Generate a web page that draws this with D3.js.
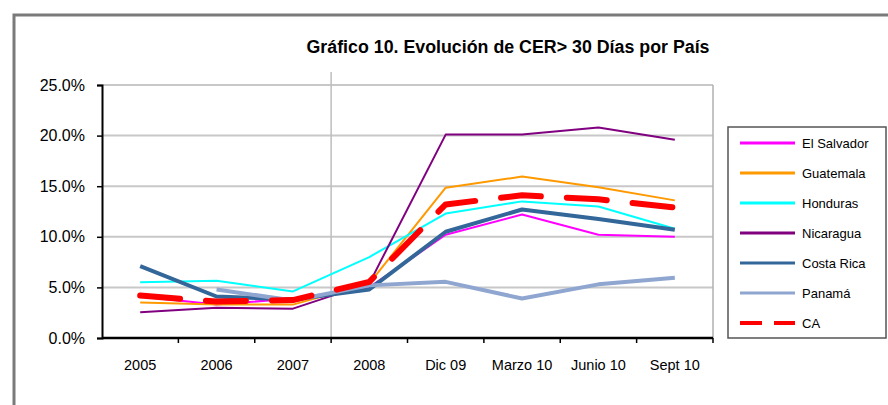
<!DOCTYPE html>
<html>
<head>
<meta charset="utf-8">
<script src="https://cdn.jsdelivr.net/npm/d3@7"></script>
<style>
  body { margin: 0; background: #fff; }
  svg { display: block; font-family: "Liberation Sans", Arial, sans-serif; }
</style>
</head>
<body>
<div id="chart"></div>
<script>
'use strict'
const categories = ['2005', '2006', '2007', '2008', 'Dic 09', 'Marzo 10', 'Junio 10', 'Sept 10'];
const yTicks = [0, 5, 10, 15, 20, 25];
const elSalvador = [4.1, 3.3, 3.9, 5.0, 10.2, 12.2, 10.2, 10.0];
const guatemala = [3.5, 3.3, 3.3, 5.4, 14.85, 15.95, 14.9, 13.6];
const honduras = [5.5, 5.65, 4.6, 8.0, 12.3, 13.5, 13.0, 10.8];
const nicaragua = [2.55, 3.0, 2.9, 5.4, 20.1, 20.1, 20.8, 19.6];
const costaRica = [7.1, 4.1, 3.8, 4.8, 10.5, 12.7, 11.75, 10.7];
const panama = [null, 4.8, 3.7, 5.2, 5.55, 3.9, 5.3, 5.95];
const ca = [4.2, 3.6, 3.75, 5.55, 13.2, 14.1, 13.7, 12.9];

const series = [
  {name: 'El Salvador', values: elSalvador, color: '#ff00ff', w: 2},
  {name: 'Guatemala', values: guatemala, color: '#ff9900', w: 2},
  {name: 'Honduras', values: honduras, color: '#00ffff', w: 2},
  {name: 'Nicaragua', values: nicaragua, color: '#800080', w: 2},
  {name: 'Costa Rica', values: costaRica, color: '#336699', w: 4},
  {name: 'Panamá', values: panama, color: '#8fa6d0', w: 4},
  {name: 'CA', values: ca, color: '#ff0000', w: 6, dash: '40,26'}
];

let W = 888, H = 405;
let plot = {left: 102, right: 713, top: 85, bottom: 338};

let svg = d3.select('#chart').append('svg')
  .attr('width', W).attr('height', H);

// outer frame
svg.append('rect')
  .attr('x', 14).attr('y', 15)
  .attr('width', W + 10).attr('height', H + 10)
  .attr('fill', 'none').attr('stroke', '#7a7a7a').attr('stroke-width', 3);

let x = d3.scaleBand().domain(categories).range([plot.left, plot.right]).padding(0);
let y = d3.scaleLinear().domain([0, 25]).range([plot.bottom, plot.top]);

// gridlines
svg.append('g').selectAll('line')
  .data(yTicks.slice(1))
  .enter().append('line')
  .attr('x1', plot.left).attr('x2', plot.right)
  .attr('y1', d => y(d)).attr('y2', d => y(d))
  .attr('stroke', '#c8c8c8').attr('stroke-width', 2);

// right border
svg.append('line')
  .attr('x1', plot.right).attr('x2', plot.right)
  .attr('y1', plot.top).attr('y2', plot.bottom)
  .attr('stroke', '#b0b0b0').attr('stroke-width', 1.5);

// vertical divider 2007 | 2008
svg.append('line')
  .attr('x1', x('2008')).attr('x2', x('2008'))
  .attr('y1', 72).attr('y2', plot.bottom)
  .attr('stroke', '#bdbdbd').attr('stroke-width', 1.5);

// y axis
let yAxis = d3.axisLeft(y)
  .tickValues(yTicks)
  .tickSize(5)
  .tickPadding(12)
  .tickFormat(d => d.toFixed(1) + '%');
let yg = svg.append('g')
  .attr('transform', 'translate(' + plot.left + ',0)')
  .call(yAxis);
yg.select('.domain').attr('stroke', '#000').attr('stroke-width', 2);
yg.selectAll('.tick line').attr('stroke', '#000').attr('stroke-width', 1.5);
yg.selectAll('.tick text').attr('font-size', '16px').attr('fill', '#000');

// x axis
let xg = svg.append('g')
  .attr('transform', 'translate(0,' + plot.bottom + ')');
xg.append('line')
  .attr('x1', plot.left).attr('x2', plot.right)
  .attr('stroke', '#000').attr('stroke-width', 2.5);
xg.selectAll('.xtick')
  .data(categories.slice(1).concat(['end']))
  .enter().append('line')
  .attr('class', 'xtick')
  .attr('x1', d => d === 'end' ? plot.right : x(d))
  .attr('x2', d => d === 'end' ? plot.right : x(d))
  .attr('y1', 0).attr('y2', 5)
  .attr('stroke', '#000').attr('stroke-width', 1.5);
xg.selectAll('.xlabel')
  .data(categories)
  .enter().append('text')
  .attr('class', 'xlabel')
  .attr('x', d => x(d) + x.bandwidth() / 2)
  .attr('y', 32)
  .attr('text-anchor', 'middle')
  .attr('font-size', '14.5px')
  .attr('fill', '#000')
  .text(d => d);

// lines
let line = d3.line()
  .defined(d => d != null)
  .x((d, i) => x(categories[i]) + x.bandwidth() / 2)
  .y(d => y(d));

svg.append('g').selectAll('path')
  .data(series)
  .enter().append('path')
  .attr('d', d => line(d.values))
  .attr('fill', 'none')
  .attr('stroke', d => d.color)
  .attr('stroke-width', d => d.w)
  .attr('stroke-linejoin', 'round')
  .attr('stroke-linecap', d => d.dash ? 'round' : 'butt')
  .attr('stroke-dasharray', d => d.dash || null);

// title
svg.append('text')
  .attr('x', 508).attr('y', 53)
  .attr('text-anchor', 'middle')
  .attr('font-size', '18px')
  .attr('font-weight', 'bold')
  .attr('fill', '#000')
  .attr('textLength', 403)
  .attr('lengthAdjust', 'spacingAndGlyphs')
  .text('Gráfico 10. Evolución de CER> 30 Días por País');

// legend
let legend = svg.append('g');
legend.append('rect')
  .attr('x', 728).attr('y', 127)
  .attr('width', 158).attr('height', 211)
  .attr('fill', '#fff').attr('stroke', '#555').attr('stroke-width', 1.5);
let item = legend.selectAll('.item')
  .data(series)
  .enter().append('g')
  .attr('class', 'item')
  .attr('transform', (d, i) => 'translate(0,' + (143 + i * 30) + ')');
item.append('line')
  .attr('x1', 740).attr('x2', 795)
  .attr('stroke', d => d.color)
  .attr('stroke-width', d => d.dash ? 4 : 3)
  .attr('stroke-dasharray', d => d.dash ? '22,12' : null);
item.append('text')
  .attr('x', 802).attr('y', 5)
  .attr('font-size', '13px')
  .attr('fill', '#000')
  .text(d => d.name);
</script>
</body>
</html>
